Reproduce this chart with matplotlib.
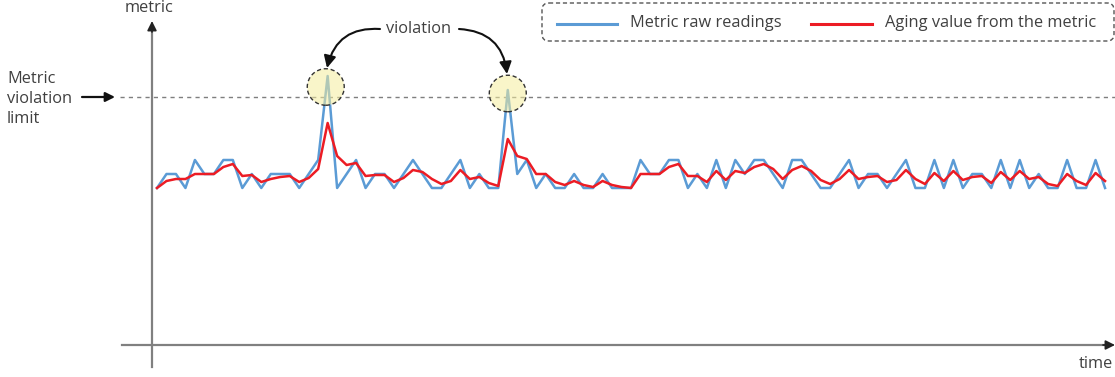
import matplotlib
matplotlib.use('Agg')
import matplotlib.pyplot as plt
from matplotlib.patches import Ellipse, FancyBboxPatch

# ---- data (arbitrary metric units) ----
raw_readings = [15.7, 17.1, 17.1, 15.7, 18.5, 17.1, 17.1, 18.5, 18.5, 15.7,
                17.1, 15.7, 17.1, 17.1, 17.1, 15.7, 17.1, 18.5, 26.9, 15.7,
                17.1, 18.5, 15.7, 17.1, 17.1, 15.7, 17.1, 18.5, 17.1, 15.7,
                15.7, 17.1, 18.5, 15.7, 17.1, 15.7, 15.7, 25.5, 17.1, 18.5,
                15.7, 17.1, 15.7, 15.7, 17.1, 15.7, 15.7, 17.1, 15.7, 15.7,
                15.7, 18.5, 17.1, 17.1, 18.5, 18.5, 15.7, 17.1, 15.7, 18.5,
                15.7, 18.5, 17.1, 18.5, 18.5, 17.1, 15.7, 18.5, 18.5, 17.1,
                15.7, 15.7, 17.1, 18.5, 15.7, 17.1, 17.1, 15.7, 17.1, 18.5,
                15.7, 15.7, 18.5, 15.7, 18.5, 15.7, 17.1, 17.1, 15.7, 18.5,
                15.7, 18.5, 15.7, 17.1, 15.7, 15.7, 18.5, 15.7, 15.7, 18.5,
                15.7]
aging_values = [15.7, 16.4, 16.6, 16.6, 17.1, 17.1, 17.1, 17.8, 18.1, 16.9,
                17.0, 16.3, 16.6, 16.8, 16.9, 16.3, 16.7, 17.6, 22.2, 18.9,
                18.0, 18.2, 16.9, 17.0, 17.0, 16.3, 16.7, 17.5, 17.3, 16.6,
                16.1, 16.4, 17.5, 16.6, 16.8, 16.2, 15.9, 20.6, 18.9, 18.6,
                17.1, 17.1, 16.3, 16.0, 16.4, 16.0, 15.8, 16.4, 16.0, 15.8,
                15.7, 17.1, 17.1, 17.1, 17.8, 18.1, 16.9, 16.9, 16.3, 17.4,
                16.5, 17.4, 17.2, 17.8, 18.1, 17.6, 16.6, 17.5, 17.9, 17.4,
                16.5, 16.1, 16.6, 17.5, 16.6, 16.8, 16.9, 16.3, 16.5, 17.5,
                16.6, 16.1, 17.2, 16.4, 17.4, 16.5, 16.8, 16.9, 16.2, 17.3,
                16.5, 17.4, 16.6, 16.8, 16.1, 15.9, 17.1, 16.4, 16.0, 17.2,
                16.4]
violation_limit = 24.8
violation_idx = [18, 37]
series_labels = ["Metric raw readings", "Aging value from the metric"]
limit_label = "Metric\nviolation\nlimit"
annot_label = "violation"
x_label = "time"
y_label = "metric"

BLUE = '#5b9bd5'
RED = '#ec1c24'
TXT = '#404040'
FONT = 'Open Sans'
FS = 11.8

W, H = 1115, 377
fig = plt.figure(figsize=(W / 100, H / 100), dpi=100)

# main data axes
ax = fig.add_axes([0, 0, 1, 1])
ax.axis('off')
ax.set_xlim(-16.56, 101.05)
ax.set_ylim(-3.2, 34.5)
xs = list(range(len(raw_readings)))
ax.axhline(violation_limit, xmin=120 / W, xmax=1.0, color='#7f7f7f',
           lw=1.0, ls=(0, (3, 3)), zorder=1)
ax.plot(xs, raw_readings, color=BLUE, lw=1.8, zorder=2)
ax.plot(xs, aging_values, color=RED, lw=1.8, zorder=3)
circle_centers = [(violation_idx[0] - 0.2, 25.8), (violation_idx[1], 25.15)]
for cx, cy in circle_centers:
    ax.add_patch(Ellipse((cx, cy), 3.9, 3.65, facecolor=(0.96, 0.93, 0.62, 0.55),
                         edgecolor='none', zorder=5))
    ax.add_patch(Ellipse((cx, cy), 3.9, 3.65, facecolor='none',
                         edgecolor='#333333', lw=1.0, ls=(0, (3, 2)), zorder=6))

# overlay axes in pixel coordinates for the diagram decorations
ov = fig.add_axes([0, 0, 1, 1], zorder=3)
ov.axis('off')
ov.patch.set_alpha(0)
ov.set_xlim(0, W)
ov.set_ylim(H, 0)

# y axis
ov.plot([152, 152], [367, 30], color='#808080', lw=1.6)
ov.annotate('', xy=(152, 21), xytext=(152, 32),
            arrowprops=dict(arrowstyle='-|>', color='#222222', lw=1.2,
                            mutation_scale=14, shrinkA=0, shrinkB=0))
ov.text(149, 8, y_label, ha='center', va='center', fontsize=FS, color=TXT,
        family=FONT)
# x axis
ov.plot([122, 1105], [345, 345], color='#808080', lw=1.6)
ov.annotate('', xy=(1115, 345), xytext=(1103, 345),
            arrowprops=dict(arrowstyle='-|>', color='#222222', lw=1.2,
                            mutation_scale=14, shrinkA=0, shrinkB=0))
ov.text(1113, 364, x_label, ha='right', va='center', fontsize=FS, color=TXT,
        family=FONT)

# limit label + arrow
ov.text(7, 99, limit_label, ha='left', va='center', fontsize=FS, color=TXT,
        family=FONT, linespacing=1.3)
ov.annotate('', xy=(115, 97), xytext=(82, 97),
            arrowprops=dict(arrowstyle='-|>', color='#111111', lw=1.6,
                            mutation_scale=14, shrinkA=0, shrinkB=0))

# violation annotation
ov.text(419, 29, annot_label, ha='center', va='center', fontsize=FS, color=TXT,
        family=FONT)
ov.annotate('', xy=(327, 68), xytext=(380, 29),
            arrowprops=dict(arrowstyle='-|>', color='#111111', lw=1.5,
                            mutation_scale=18, shrinkA=0, shrinkB=0,
                            connectionstyle='arc3,rad=0.42'))
ov.annotate('', xy=(507, 74), xytext=(459, 29),
            arrowprops=dict(arrowstyle='-|>', color='#111111', lw=1.5,
                            mutation_scale=18, shrinkA=0, shrinkB=0,
                            connectionstyle='arc3,rad=-0.42'))

# legend box
ov.add_patch(FancyBboxPatch((542, 3), 572, 38,
                            boxstyle='round,pad=0,rounding_size=7',
                            facecolor='white', edgecolor='#555555', lw=1.0,
                            ls=(0, (3, 2))))
ov.plot([557, 617], [24, 24], color=BLUE, lw=2.2)
ov.text(630, 23, series_labels[0], ha='left', va='center', fontsize=FS,
        color=TXT, family=FONT)
ov.plot([811, 872], [24, 24], color=RED, lw=2.2)
ov.text(885, 23, series_labels[1], ha='left', va='center', fontsize=FS,
        color=TXT, family=FONT)

fig.savefig('out.png', dpi=100)
